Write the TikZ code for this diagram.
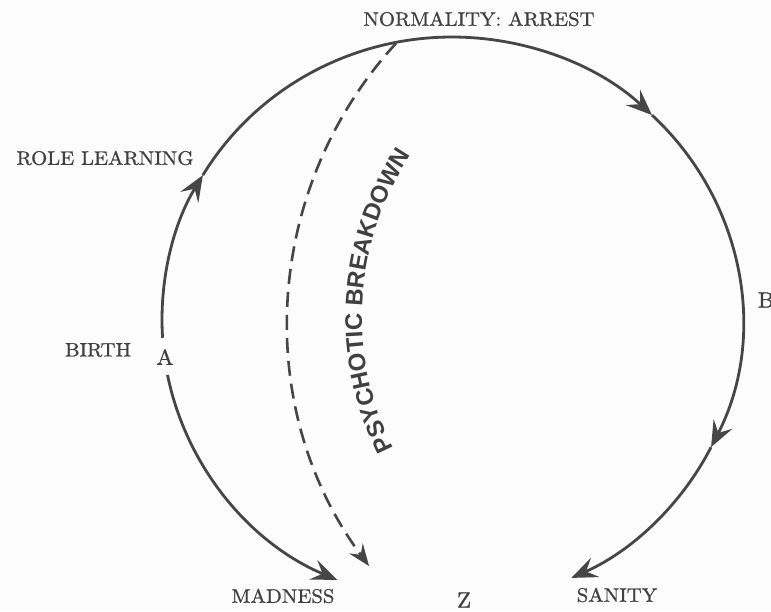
\documentclass[tikz,border=0pt]{standalone}
\usepackage{fontspec}
\newfontfamily\psyfont{Liberation Sans}
\newfontfamily\labfont{lmroman10-regular}[Extension=.otf, FakeStretch=1.06, FakeBold=0.9]
\usetikzlibrary{arrows.meta,decorations.text,calc}
\definecolor{ink}{HTML}{464646}
\definecolor{lbl}{HTML}{404040}
\definecolor{paper}{HTML}{FCFCFD}
\begin{document}
\begin{tikzpicture}[x=1pt,y=1pt,
  tipped/.style={-{Stealth[length=26pt,width=21pt,inset=10pt]}},
  ring/.style={draw=ink, line width=2.8pt, tipped},
  dashline/.style={draw=ink, line width=2.6pt, dash pattern=on 15pt off 8pt,
     -{Stealth[length=22pt,width=17pt,inset=8pt]}},
  lab/.style={text=lbl, font=\labfont\fontsize{19.5}{21}\selectfont, inner sep=0pt},
  letter/.style={text=lbl, font=\labfont\fontsize{22}{24}\selectfont, inner sep=0pt}]
\fill[paper] (0,0) rectangle (771,-611);
\useasboundingbox (0,0) rectangle (771,-611);
% centres
\coordinate (C) at (452,-320);
\coordinate (D) at (699,-321);
\coordinate (T) at (653,-317);
% points on the cycle
\coordinate (aUp)  at ($(C)+(183.6:290pt and 283pt)$);
\coordinate (rl)   at ($(C)+(149.2:290pt and 283pt)$);
\coordinate (tr)   at ($(C)+(46.4:290pt and 283pt)$);
\coordinate (br)   at ($(C)+(-26.7:290pt and 283pt)$);
\coordinate (san)  at ($(C)+(-65.7:290pt and 283pt)$);
\coordinate (aDn)  at ($(C)+(191.2:290pt and 283pt)$);
\coordinate (mad)  at ($(C)+(246.7:290pt and 283pt)$);
\coordinate (dStart) at ($(D)+(137.5:411pt)$);
\coordinate (tStart) at ($(T)+(216:291pt)$);
% labels
\node[lab] (normality) at (479,-19) {NORMALITY: ARREST};
\node[lab] (role) at (105,-158) {ROLE LEARNING};
\node[lab] (birth) at (98,-350) {BIRTH};
\node[letter] (A) at (165,-357) {A};
\node[letter] (B) at (766,-300) {B};
\node[lab] (madness) at (283,-596) {MADNESS};
\node[letter] (Z) at (464,-600) {Z};
\node[lab] (sanity) at (617,-595) {SANITY};
% cycle
\draw[ring] (aUp) arc[start angle=183.6, end angle=149.2, x radius=290pt, y radius=283pt];
\draw[ring] (rl) arc[start angle=149.2, end angle=46.4, x radius=290pt, y radius=283pt];
\draw[ring] (tr) arc[start angle=46.4, end angle=-26.7, x radius=290pt, y radius=283pt];
\draw[ring] (br) arc[start angle=-26.7, end angle=-65.7, x radius=290pt, y radius=283pt];
\draw[ring] (aDn) arc[start angle=191.2, end angle=246.7, x radius=290pt, y radius=283pt];
% breakdown
\draw[dashline] (dStart) arc[start angle=137.5, end angle=216.6, radius=411pt];
\path[decorate, decoration={text along path, text align=center,
  text={|\psyfont\bfseries\fontsize{24}{26}\selectfont\color{lbl}|PSYCHOTIC BREAKDOWN}}]
  (tStart) arc[start angle=216, end angle=137, radius=291pt];
\end{tikzpicture}
\end{document}
